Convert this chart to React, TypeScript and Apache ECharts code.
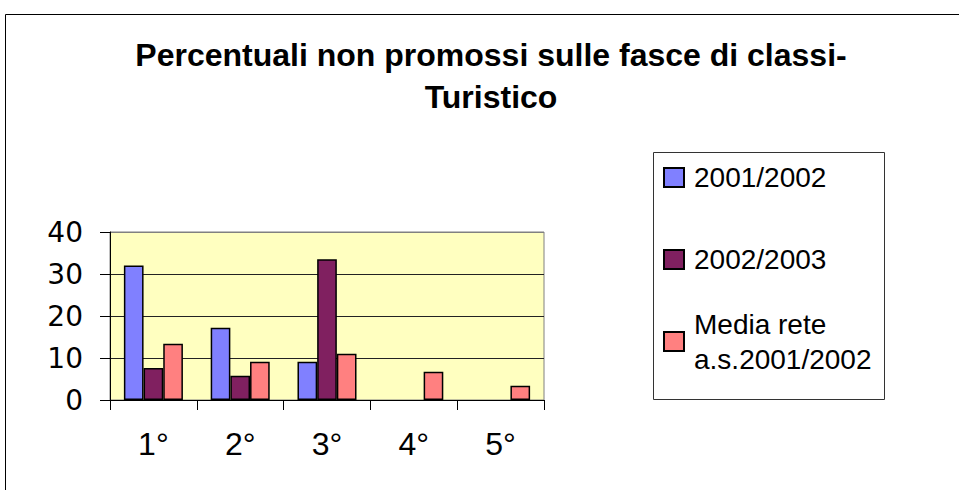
import React, { useEffect, useRef } from "react";
import * as echarts from "echarts";

const categories = ["1°", "2°", "3°", "4°", "5°"];
const seriesNames = ["2001/2002", "2002/2003", "Media rete a.s.2001/2002"];
const values2001 = [32, 17.2, 9.1, null, null];
const values2002 = [7.6, 5.8, 33.5, null, null];
const valuesMedia = [13.4, 9.1, 11, 6.7, 3.4];
const colors = ["#8080FF", "#802060", "#FF8080"];
const titleText = "Percentuali non promossi sulle fasce di classi-\nTuristico";

const FONT = "'Liberation Sans', Arial, sans-serif";
const WIDE_FONT = "'DejaVu Sans', 'Liberation Sans', sans-serif";

export default function App() {
  const ref = useRef<HTMLDivElement>(null);
  useEffect(() => {
    if (!ref.current) return;
    const chart = echarts.init(ref.current, null, { renderer: "svg" });
    const allValues = [values2001, values2002, valuesMedia];
    chart.setOption({
      animation: false,
      backgroundColor: "#FFFFFF",
      textStyle: { fontFamily: FONT },
      title: {
        text: titleText,
        left: 491,
        textAlign: "center",
        top: 34,
        padding: 0,
        textStyle: {
          fontFamily: FONT,
          fontSize: 32,
          fontWeight: "bold",
          lineHeight: 42,
          color: "#000",
        },
      },
      legend: {
        orient: "vertical",
        left: 663,
        top: 125,
        padding: 0,
        itemWidth: 20,
        itemHeight: 19,
        itemGap: -23,
        icon: "rect",
        selectedMode: false,
        formatter: (name: string) =>
          name === seriesNames[2] ? "Media rete\na.s.2001/2002" : name,
        textStyle: {
          fontFamily: FONT,
          fontSize: 28,
          lineHeight: 35,
          color: "#000",
          padding: [35, 0, 35, 5],
        },
        data: [
          { name: seriesNames[0] },
          { name: seriesNames[1] },
          { name: seriesNames[2], textStyle: { padding: [35, 0, 0, 5] } },
        ],
      },
      graphic: [
        {
          type: "rect",
          shape: { x: 5.5, y: 14.5, width: 1000, height: 600 },
          style: { fill: "none", stroke: "#000", lineWidth: 1 },
          silent: true,
          z: -10,
        },
        {
          type: "rect",
          shape: { x: 653.5, y: 152.5, width: 231, height: 247 },
          style: { fill: "none", stroke: "#333", lineWidth: 1 },
          silent: true,
        },
      ],
      grid: {
        left: 110,
        top: 232,
        width: 434,
        height: 168,
        show: true,
        backgroundColor: "#FFFFC0",
        borderColor: "#808080",
        borderWidth: 1,
      },
      xAxis: {
        type: "category",
        data: categories,
        boundaryGap: true,
        axisLine: { lineStyle: { color: "#000", width: 1 } },
        axisTick: {
          show: true,
          length: 10,
          alignWithLabel: false,
          lineStyle: { color: "#000" },
        },
        axisLabel: {
          margin: 28,
          fontSize: 32,
          fontFamily: FONT,
          color: "#000",
        },
        splitLine: { show: false },
      },
      yAxis: {
        type: "value",
        min: 0,
        max: 40,
        interval: 10,
        axisLine: { show: true, lineStyle: { color: "#000", width: 1 } },
        axisTick: { show: true, length: 10, lineStyle: { color: "#000" } },
        axisLabel: {
          margin: 27,
          fontSize: 28,
          fontFamily: WIDE_FONT,
          color: "#000",
        },
        splitLine: {
          show: true,
          lineStyle: {
            color: ["#000", "#222", "#222", "#222", "#808080"],
            width: 1,
          },
        },
      },
      series: seriesNames.map((name, i) => ({
        name,
        type: "bar",
        data: allValues[i],
        barGap: "0%",
        barCategoryGap: "32%",
        itemStyle: {
          color: colors[i],
          borderColor: "#000",
          borderWidth: 1.5,
        },
      })),
    });
    return () => chart.dispose();
  }, []);
  return (
    <div
      ref={ref}
      style={{ position: "absolute", left: 0, top: 0, width: 959, height: 490 }}
    />
  );
}
